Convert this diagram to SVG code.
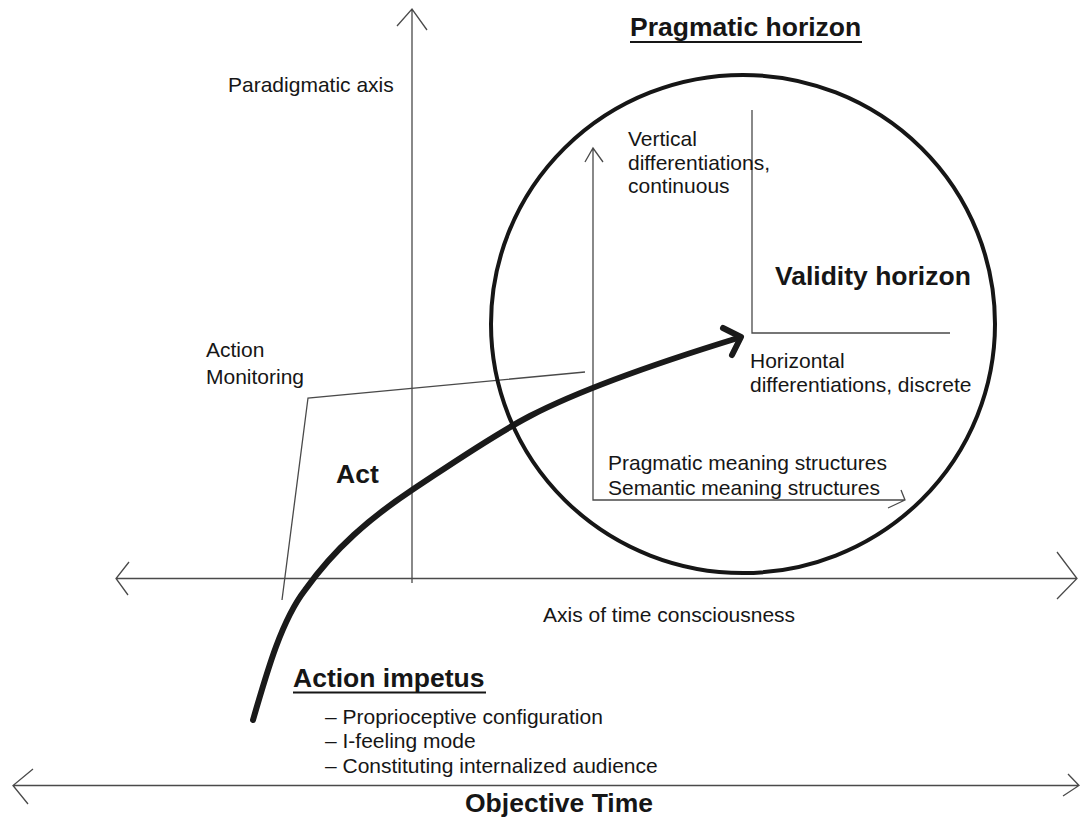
<svg xmlns="http://www.w3.org/2000/svg" width="1081" height="819" viewBox="0 0 1081 819">
<style>
text { font-family: "Liberation Sans", Arial, sans-serif; fill: #161616; }
.r { font-size: 21px; }
.b { font-size: 26.5px; font-weight: bold; }
.thin { fill: none; stroke: #4a4a4a; stroke-width: 1.3; }
.ul { stroke: #161616; stroke-width: 2.2; }
.thick { fill: none; stroke: #1a1a1a; stroke-width: 6; stroke-linecap: round; stroke-linejoin: round; }
</style>
<rect width="1081" height="819" fill="#ffffff"/>
<g id="connectors">
  <!-- Paradigmatic axis -->
  <path class="thin" d="M412,9 L412,583 M397,26 L412,9 L427,30"/>
  <!-- Axis of time consciousness -->
  <path class="thin" d="M116,578.5 L1077,578.5 M129,562 L116,578.5 L128,595 M1057,552 L1077,578.5 L1057,599"/>
  <!-- Objective Time axis -->
  <path class="thin" d="M13,785.5 L1079,785.5 M33,769 L13,785.5 L28,804 M1068,774 L1079,785.5 L1063,796"/>
  <!-- Inner axes -->
  <path class="thin" d="M593,148 L593,500 L905,500 M585,162 L593,148 L603,162 M901,490 L905,500 L888,508"/>
  <!-- Validity L -->
  <path class="thin" d="M752,110 L752,333 L950,333"/>
  <!-- Action monitoring -->
  <path class="thin" d="M585,372 L308,398 L282,600"/>
  <!-- Act curve -->
  <path class="thick" d="M253,720 C268,668 282,620 305,590 C335,548 370,518 412,490 C450,465 490,437 530,416 C580,390 660,362 738,338"/>
  <path class="thick" d="M723,328 L741,337 L732,355" stroke-width="7"/>
</g>
<g id="pragmatic-horizon">
  <ellipse cx="743" cy="324" rx="252" ry="249" fill="none" stroke="#161616" stroke-width="4"/>
  <text class="b" x="630" y="36">Pragmatic horizon</text>
  <line class="ul" x1="630" y1="42" x2="862" y2="42"/>
</g>
<g id="paradigmatic-axis-label"><text class="r" x="228" y="92">Paradigmatic axis</text></g>
<g id="vertical-diff">
  <text class="r" x="628" y="146">Vertical</text>
  <text class="r" x="628" y="169.5">differentiations,</text>
  <text class="r" x="628" y="193">continuous</text>
</g>
<g id="validity-horizon"><text class="b" x="775" y="285">Validity horizon</text></g>
<g id="horizontal-diff">
  <text class="r" x="750" y="368">Horizontal</text>
  <text class="r" x="750" y="392">differentiations, discrete</text>
</g>
<g id="action-monitoring">
  <text class="r" x="206" y="357">Action</text>
  <text class="r" x="206" y="384">Monitoring</text>
</g>
<g id="act"><text class="b" x="336" y="483">Act</text></g>
<g id="meaning-structures">
  <text class="r" x="608" y="470">Pragmatic meaning structures</text>
  <text class="r" x="608" y="495">Semantic meaning structures</text>
</g>
<g id="time-consciousness"><text class="r" x="543" y="622">Axis of time consciousness</text></g>
<g id="action-impetus">
  <text class="b" x="293" y="687">Action impetus</text>
  <line class="ul" x1="293" y1="692.5" x2="486" y2="692.5"/>
  <text class="r" x="325" y="724">– Proprioceptive configuration</text>
  <text class="r" x="325" y="748">– I-feeling mode</text>
  <text class="r" x="325" y="773">– Constituting internalized audience</text>
</g>
<g id="objective-time"><text class="b" x="465" y="812">Objective Time</text></g>
</svg>
